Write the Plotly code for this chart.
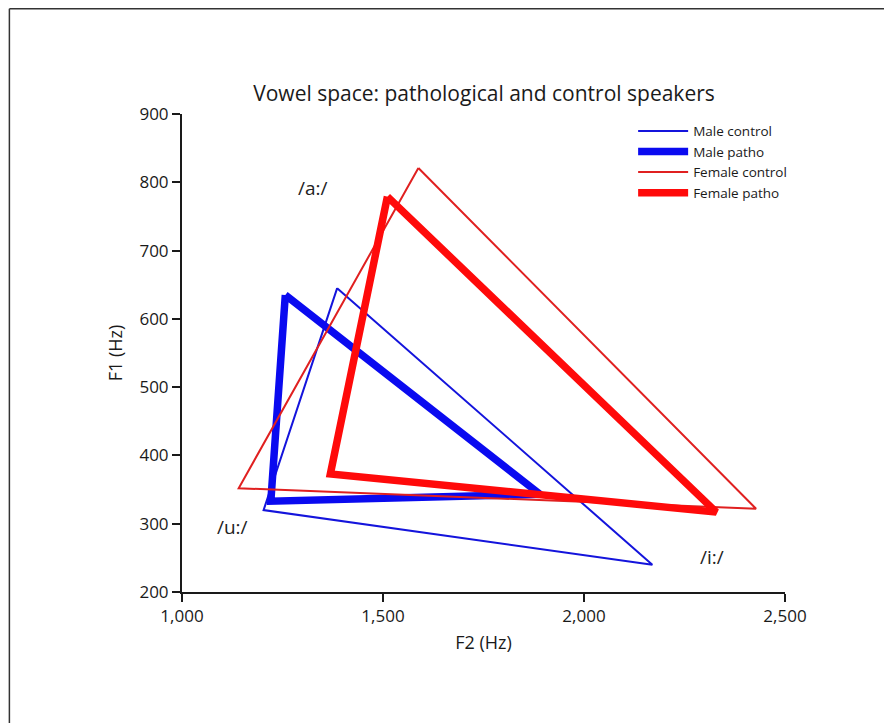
import plotly.graph_objects as go

vowels = ["/a:/", "/u:/", "/i:/"]
series_names = ["Male control", "Male patho", "Female control", "Female patho"]
f2_male_control = [1386, 1203, 2170]
f1_male_control = [645, 320, 240]
f2_male_patho = [1257, 1221, 1891]
f1_male_patho = [635, 333, 343]
f2_female_control = [1588, 1141, 2428]
f1_female_control = [821, 352, 322]
f2_female_patho = [1511, 1369, 2329]
f1_female_patho = [779, 373, 317]

label_f2 = [1327, 1126, 2318]
label_f1 = [792, 295, 251]

colors = ["#1414dc", "#0a0af0", "#e02020", "#ff0a0a"]
widths = [2, 7.5, 2, 7.5]

series_f2 = [f2_male_control, f2_male_patho, f2_female_control, f2_female_patho]
series_f1 = [f1_male_control, f1_male_patho, f1_female_control, f1_female_patho]

fig = go.Figure()
for name, xs, ys, c, w in zip(series_names, series_f2, series_f1, colors, widths):
    fig.add_trace(go.Scatter(
        x=xs + [xs[0]], y=ys + [ys[0]], mode="lines", name=name,
        line=dict(color=c, width=w), hoverinfo="skip"))

for t, x, y in zip(vowels, label_f2, label_f1):
    fig.add_annotation(x=x, y=y, text=t, showarrow=False,
                       font=dict(size=19, color="#222"))

# page is offset by 8px in the viewport; work in figure coordinates
OFF = 8
FW, FH = 892 - OFF, 723 - OFF
L, R, T, B = 181.5 - OFF, 785 - OFF, 114.3 - OFF, 591.7 - OFF
W, H = R - L, B - T
def px(p):
    return (p - OFF - L) / W
def py(p):
    return (B - (p - OFF)) / H

frame_color = "#333333"
fig.add_shape(type="line", xref="paper", yref="paper",
              x0=(0.75 - L) / W, x1=(FW - L) / W, y0=(B - 1.2) / H, y1=(B - 1.2) / H,
              line=dict(color=frame_color, width=1.5))
fig.add_shape(type="line", xref="paper", yref="paper",
              x0=(0.75 - L) / W, x1=(0.75 - L) / W, y0=(B - 1.2) / H, y1=(B - FH) / H,
              line=dict(color=frame_color, width=1.5))

font_family = "Open Sans, sans-serif"
axis_common = dict(showline=True, linecolor="#1a1a1a", linewidth=2,
                   ticks="outside", ticklen=8, tickwidth=1.5, tickcolor="#1a1a1a",
                   showgrid=False, zeroline=False,
                   tickfont=dict(size=17, color="#1a1a1a", family=font_family))

fig.update_layout(
    width=FW, height=FH,
    margin=dict(l=L, r=FW - R, t=T, b=FH - B),
    paper_bgcolor="white", plot_bgcolor="white",
    font=dict(family=font_family, color="#1a1a1a"),
    title=dict(text="Vowel space: pathological and control speakers",
               xref="container", x=(484 - OFF) / FW, xanchor="center",
               yref="container", y=1 - (94 - OFF) / FH, yanchor="middle",
               font=dict(size=21, color="#1a1a1a")),
    xaxis=dict(range=[1000, 2500], tickvals=[1000, 1500, 2000, 2500],
               ticktext=["1,000", "1,500", "2,000", "2,500"],
               title=dict(text="F2 (Hz)", font=dict(size=18), standoff=10),
               **axis_common),
    yaxis=dict(range=[200, 900], tickvals=[200, 300, 400, 500, 600, 700, 800, 900],
               title=dict(text="F1 (Hz)", font=dict(size=18), standoff=12),
               **axis_common),
    legend=dict(x=px(633), y=py(116), xanchor="left", yanchor="top",
                font=dict(size=13.5, color="#1a1a1a"), itemwidth=50,
                bgcolor="rgba(0,0,0,0)", tracegroupgap=0),
    showlegend=True,
)

fig.write_html("out.html")
